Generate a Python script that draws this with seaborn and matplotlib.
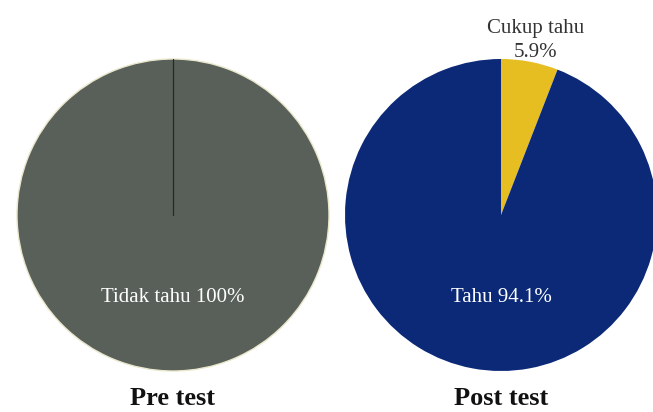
import matplotlib.pyplot as plt
import seaborn as sns
import numpy as np

# data
pre_labels = ["Tidak tahu"]
pre_values = [100.0]
post_labels = ["Cukup tahu", "Tahu"]
post_values = [5.9, 94.1]
panel_titles = ["Pre test", "Post test"]

pre_colors = ["#596059"]
post_colors = ["#e7be22", "#0b2977"]

sns.set_theme(style="white")
plt.rcParams["font.family"] = ["Liberation Serif", "DejaVu Serif"]

fig = plt.figure(figsize=(6.53, 4.12), dpi=100)
ax1 = fig.add_axes([17 / 653, 41 / 412, 312 / 653, 312 / 412])
ax2 = fig.add_axes([345 / 653, 41 / 412, 312 / 653, 312 / 412])

# pre test: single full slice
w1, _ = ax1.pie(pre_values, colors=pre_colors, startangle=90, counterclock=False,
                wedgeprops=dict(edgecolor="#e9e7cc", linewidth=1.0))
# the slice's start edge (centre to top) is not drawn for a full circle
cx, cy = w1[0].center
ax1.plot([cx, cx], [cy, cy + w1[0].r], color="#262826", linewidth=0.9)
ax1.text(0, -0.53, f"{pre_labels[0]} {pre_values[0]:.0f}%", color="white",
         fontsize=15, ha="center", va="center")

w2, _ = ax2.pie(post_values, colors=post_colors, startangle=90, counterclock=False,
                wedgeprops=dict(linewidth=0))
# outside label for the small slice, at its mid angle
mid = np.deg2rad(90 - post_values[0] / 100 * 360 / 2)
ax2.text(1.2 * np.cos(mid), 1.14 * np.sin(mid), f"{post_labels[0]}\n{post_values[0]}%",
         fontsize=15, ha="center", va="center", color="#333333", linespacing=1.35)
ax2.text(0, -0.53, f"{post_labels[1]} {post_values[1]}%", color="white",
         fontsize=15, ha="center", va="center")

for ax, t in zip([ax1, ax2], panel_titles):
    ax.set_xlim(-1, 1)
    ax.set_ylim(-1, 1)
    ax.set_aspect("equal")
    ax.axis("off")
    ax.text(0.5, -0.087, t, transform=ax.transAxes, ha="center", va="center",
            fontsize=19, fontweight="bold", color="#111111")

fig.savefig("out.png", dpi=100)
